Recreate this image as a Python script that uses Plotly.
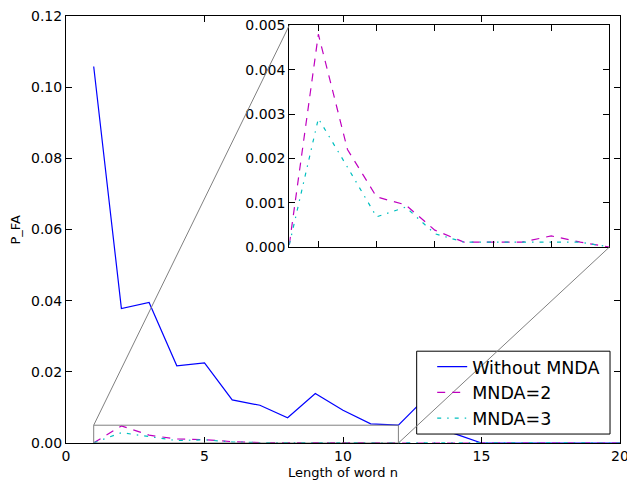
import plotly.graph_objects as go

n = list(range(1, 21))
without_mnda = [0.1058, 0.0378, 0.0395, 0.0217, 0.0225, 0.0121, 0.0106, 0.0071, 0.0139, 0.0092,
                0.0054, 0.0050, 0.0128, 0.0027, 0.0, 0.0, 0.0, 0.0, 0.0, 0.0]
mnda2 = [0.00005, 0.0048, 0.0022, 0.00113, 0.00095, 0.00038, 0.00011, 0.00011, 0.00011, 0.00025,
         0.00011, 0.0, 0.0, 0.0, 0.0, 0.0, 0.0, 0.0, 0.0, 0.0]
mnda3 = [0.00005, 0.0029, 0.0018, 0.00068, 0.0009, 0.0003, 0.00011, 0.00011, 0.00011, 0.00011,
         0.00011, 0.0, 0.0, 0.0, 0.0, 0.0, 0.0, 0.0, 0.0, 0.0]
names = ["Without MNDA", "MNDA=2", "MNDA=3"]

x_ticks = [0, 5, 10, 15, 20]
y_ticks = [0.0, 0.02, 0.04, 0.06, 0.08, 0.10, 0.12]
y_ticklabels = ["0.00", "0.02", "0.04", "0.06", "0.08", "0.10", "0.12"]
inset_x_ticks = [2, 4, 6, 8, 10]
inset_y_ticks = [0.0, 0.001, 0.002, 0.003, 0.004, 0.005]
inset_y_ticklabels = ["0.000", "0.001", "0.002", "0.003", "0.004", "0.005"]

FONT = "DejaVu Sans"
# page body has an 8px margin; figure is sized/offset to compensate
W, H = 627, 475
L, R, T, B = 58, 15, 7.5, 40
xr = [0, 20]
yr = [0, 0.12]
zx = [1, 12]
zy = [0, 0.005]
ins_x = [0.403, 0.981]
ins_y = [0.459, 0.978]

fig = go.Figure()
styles = [dict(color="#0000ff", width=1.2),
          dict(color="#bf00bf", width=1.2, dash="8px,7px"),
          dict(color="#00bfbf", width=1.2, dash="4px,6px,1.5px,6px")]
for name, ys, st in zip(names, [without_mnda, mnda2, mnda3], styles):
    fig.add_trace(go.Scatter(x=n, y=ys, mode="lines", name=name, line=st,
                             xaxis="x", yaxis="y"))
for name, ys, st in zip(names[1:], [mnda2, mnda3], styles[1:]):
    fig.add_trace(go.Scatter(x=n, y=ys, mode="lines", name=name, line=st,
                             xaxis="x2", yaxis="y2", showlegend=False))

def px(v, r):
    return (v - r[0]) / (r[1] - r[0])

shapes = [
    dict(type="rect", xref="x", yref="y", x0=zx[0], x1=zx[1], y0=zy[0], y1=zy[1],
         line=dict(color="#808080", width=1), layer="above"),
    dict(type="rect", xref="paper", yref="paper", x0=0.633, x1=0.982, y0=0.021, y1=0.215,
         fillcolor="white", line=dict(color="black", width=1), layer="above"),
    dict(type="line", xref="paper", yref="paper",
         x0=px(zx[0], xr), y0=px(zy[1], yr), x1=ins_x[0], y1=ins_y[1],
         line=dict(color="#808080", width=1), layer="above"),
    dict(type="line", xref="paper", yref="paper",
         x0=px(zx[1], xr), y0=px(zy[0], yr), x1=ins_x[1], y1=ins_y[0],
         line=dict(color="#808080", width=1), layer="above"),
]

axis_common = dict(showgrid=False, zeroline=False, showline=True, linecolor="black", linewidth=1,
                   mirror="ticks", ticks="inside", ticklen=6, tickcolor="black", automargin=False,
                   ticklabeloverflow="allow",
                   tickfont=dict(family=FONT, size=14, color="black"))

annotations = [
    dict(text="Length of word n", xref="paper", yref="paper", x=0.5, y=-0.070,
         xanchor="center", yanchor="middle", showarrow=False, font=dict(family=FONT, size=13)),
    dict(text="P_FA", xref="paper", yref="paper", x=-0.092, y=0.5, textangle=-90,
         xanchor="center", yanchor="middle", showarrow=False, font=dict(family=FONT, size=13)),
]

fig.update_layout(
    width=W, height=H,
    margin=dict(l=L, r=R, t=T, b=B),
    paper_bgcolor="white", plot_bgcolor="white",
    font=dict(family=FONT, color="black"),
    shapes=shapes,
    annotations=annotations,
    xaxis=dict(range=xr, tickmode="array", tickvals=x_ticks, domain=[0, 1], **axis_common),
    yaxis=dict(range=yr, tickmode="array", tickvals=y_ticks, ticktext=y_ticklabels,
               domain=[0, 1], **axis_common),
    xaxis2=dict(range=zx, tickmode="array", tickvals=inset_x_ticks, showticklabels=False,
                domain=ins_x, anchor="y2", **axis_common),
    yaxis2=dict(range=zy, tickmode="array", tickvals=inset_y_ticks, ticktext=inset_y_ticklabels,
                domain=ins_y, anchor="x2", **axis_common),
    legend=dict(x=0.661, y=0.2206, xanchor="left", yanchor="top", bgcolor="rgba(0,0,0,0)",
                borderwidth=0, font=dict(family=FONT, size=17.5), tracegroupgap=0,
                itemwidth=30),
    showlegend=True,
)

fig.write_html("out.html")
